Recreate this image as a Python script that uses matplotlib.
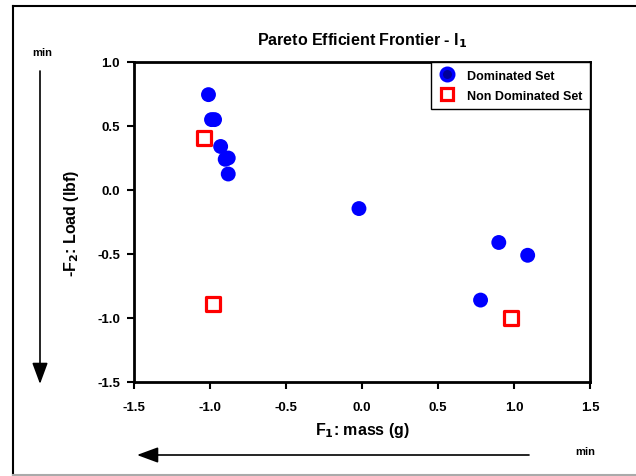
import matplotlib
matplotlib.use("Agg")
import matplotlib.pyplot as plt
from matplotlib.lines import Line2D
from matplotlib.patches import FancyArrowPatch

plt.rcParams['font.family'] = ['Liberation Sans', 'DejaVu Sans']
plt.rcParams['mathtext.default'] = 'bf'

dom_x = [-1.01, -0.99, -0.97, -0.93, -0.90, -0.88, -0.88, -0.02, 0.90, 1.09, 0.78]
dom_y = [0.745, 0.55, 0.55, 0.34, 0.24, 0.25, 0.125, -0.145, -0.41, -0.51, -0.86]
nd_x = [-1.04, -0.98, 0.98]
nd_y = [0.41, -0.89, -1.00]
xticks = [-1.5, -1.0, -0.5, 0.0, 0.5, 1.0, 1.5]
yticks = [-1.5, -1.0, -0.5, 0.0, 0.5, 1.0]

fig = plt.figure(figsize=(6.36, 4.77), dpi=100)
ax = fig.add_axes([134/636, 1-383/477, (590-134)/636, (383-63)/477])

ax.scatter(dom_x, dom_y, s=115, color='#0000ff', edgecolors='none', zorder=3)
ax.scatter(nd_x, nd_y, s=95, marker='s', facecolors='white', edgecolors='#ff0000',
           linewidths=2.3, zorder=3)

ax.set_xlim(-1.5, 1.5)
ax.set_ylim(-1.5, 1.0)
ax.set_xticks(xticks)
ax.set_yticks(yticks)
ax.set_xticklabels([f"{t:.1f}" for t in xticks], fontweight='bold', fontsize=9.5)
ax.set_yticklabels([f"{t:.1f}" for t in yticks], fontweight='bold', fontsize=9.5)
ax.tick_params(axis='both', direction='out', length=5, width=1.5)
ax.tick_params(axis='x', pad=9)
ax.tick_params(axis='y', pad=5)
ax.tick_params(top=False, right=False)
for s in ax.spines.values():
    s.set_linewidth(2)

ax.set_title(r'Pareto Efficient Frontier - I$_\mathbf{1}$', fontweight='bold', fontsize=11.5, pad=13)
ax.set_xlabel(r'F$_\mathbf{1}$: mass (g)', fontweight='bold', fontsize=11.5, labelpad=5)
ax.set_ylabel(r'-F$_\mathbf{2}$: Load (lbf)', fontweight='bold', fontsize=11.5, labelpad=12)

h1 = Line2D([], [], linestyle='none', marker='o', markersize=9, markerfacecolor='#000099',
            markeredgecolor='#0000ff', markeredgewidth=2.5, label='Dominated Set')
h2 = Line2D([], [], linestyle='none', marker='s', markersize=9, markerfacecolor='white',
            markeredgecolor='#ff0000', markeredgewidth=2.3, label='Non Dominated Set')
leg = ax.legend(handles=[h1, h2], loc='upper right', borderaxespad=0, fancybox=False, frameon=True,
                edgecolor='black', prop={'weight': 'bold', 'size': 9}, handletextpad=0.9,
                handlelength=1.4, borderpad=0.6, labelspacing=0.65, framealpha=1)
leg.get_frame().set_linewidth(1.0)

# arrows
fig.add_artist(FancyArrowPatch((529/636, 1-456/477), (137/636, 1-456/477),
               transform=fig.transFigure, arrowstyle='-|>,head_length=0.65,head_width=0.24',
               mutation_scale=20, lw=1.2, color='black', shrinkA=0, shrinkB=0))
fig.add_artist(FancyArrowPatch((40/636, 1-72/477), (40/636, 1-385/477),
               transform=fig.transFigure, arrowstyle='-|>,head_length=0.65,head_width=0.24',
               mutation_scale=20, lw=1.2, color='black', shrinkA=0, shrinkB=0))
fig.text(585/636, 1-452/477, 'min', fontweight='bold', fontsize=8, ha='center', va='center')
fig.text(42/636, 1-53/477, 'min', fontweight='bold', fontsize=8, ha='center', va='center')

# outer frame
fig.add_artist(Line2D([12.5/636, 12.5/636], [1-7/477, 1-476/477], transform=fig.transFigure, color='black', lw=1.5))
fig.add_artist(Line2D([12.5/636, 1], [1-7/477, 1-7/477], transform=fig.transFigure, color='black', lw=1.5))
fig.add_artist(Line2D([12.5/636, 1], [1-476/477, 1-476/477], transform=fig.transFigure, color='#aaaaaa', lw=1.5))

fig.savefig('out.png', dpi=100)
